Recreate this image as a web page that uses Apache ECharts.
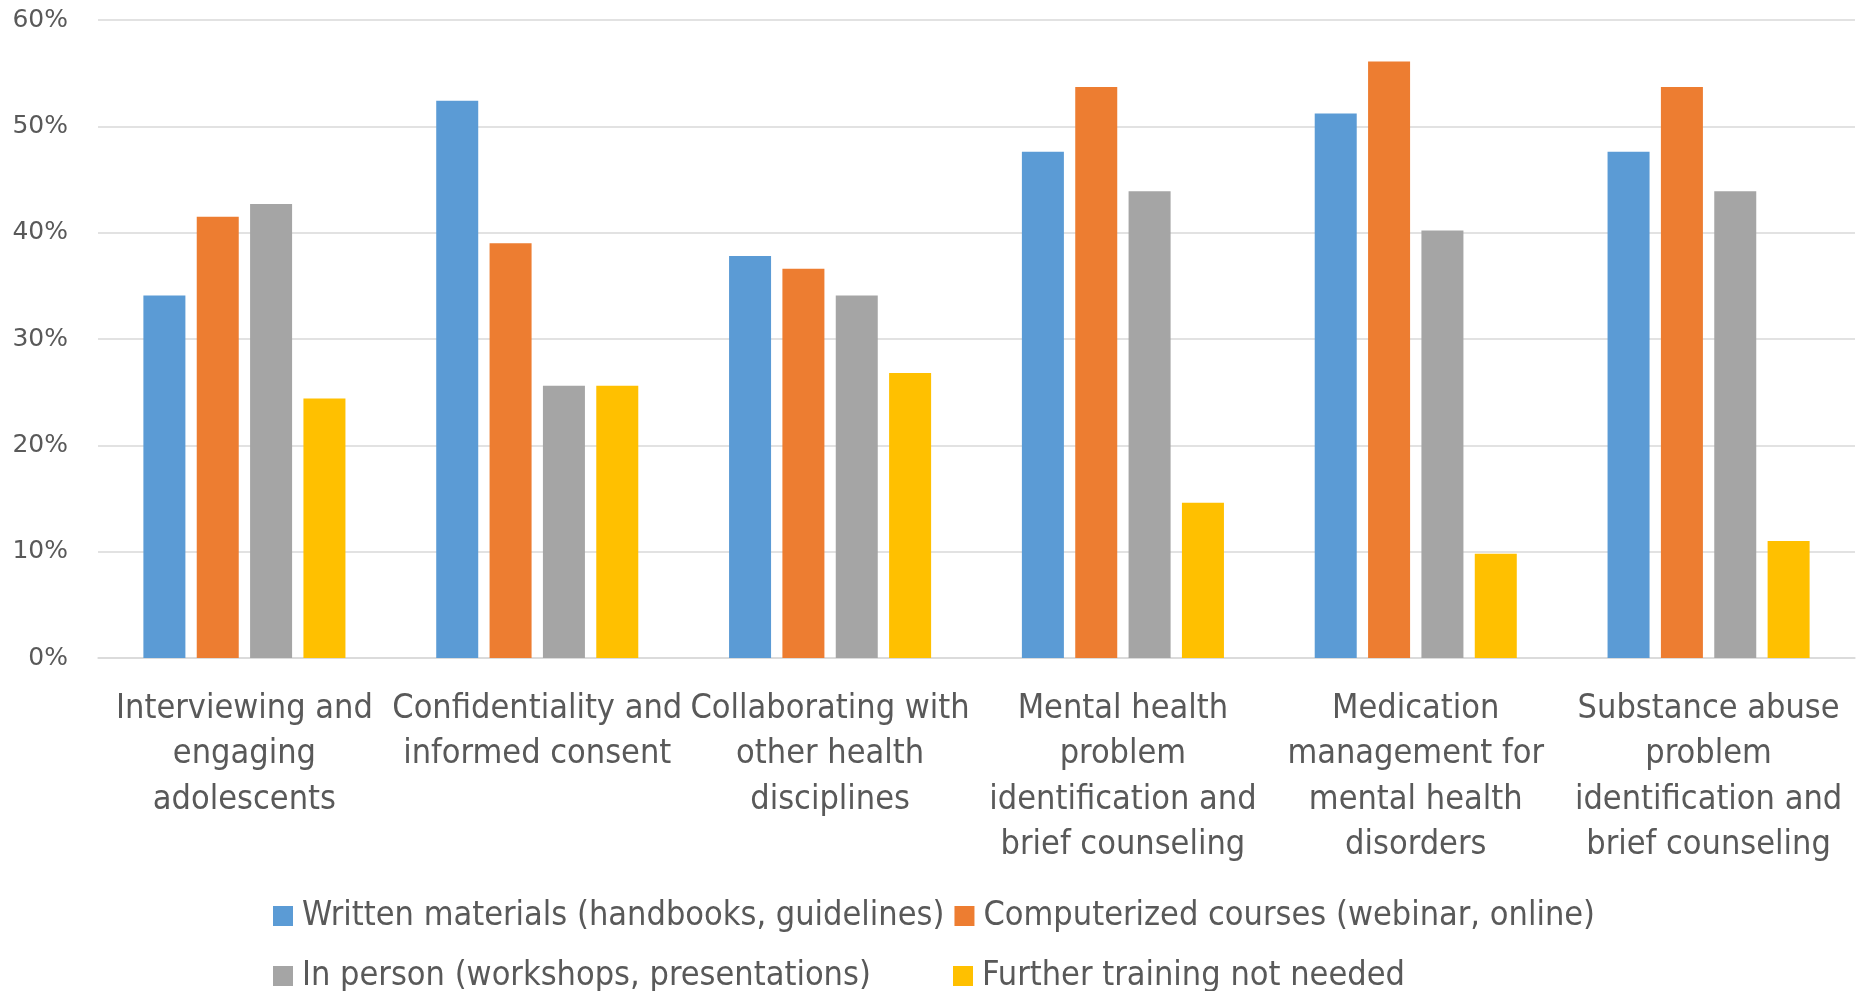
<!DOCTYPE html>
<html>
<head>
<meta charset="utf-8">
<script src="https://cdn.jsdelivr.net/npm/echarts@6/dist/echarts.min.js"></script>
<style>
  html, body { margin: 0; padding: 0; background: #fff; }
  #chart { width: 1858px; height: 991px; }
</style>
</head>
<body>
<div id="chart"></div>
<script>
// categories (line breaks as in the picture)
const categories = [
  "Interviewing and\nengaging\nadolescents",
  "Confidentiality and\ninformed consent",
  "Collaborating with\nother health\ndisciplines",
  "Mental health\nproblem\nidentification and\nbrief counseling",
  "Medication\nmanagement for\nmental health\ndisorders",
  "Substance abuse\nproblem\nidentification and\nbrief counseling"
];
const seriesNames = [
  "Written materials (handbooks, guidelines)",
  "Computerized courses (webinar, online)",
  "In person (workshops, presentations)",
  "Further training not needed"
];
// values in percent
const written = [34.1, 52.4, 37.8, 47.6, 51.2, 47.6];
const computerized = [41.5, 39.0, 36.6, 53.7, 56.1, 53.7];
const inPerson = [42.7, 25.6, 34.1, 43.9, 40.2, 43.9];
const notNeeded = [24.4, 25.6, 26.8, 14.6, 9.8, 11.0];
const yTicks = [0, 10, 20, 30, 40, 50, 60];

const colors = ["#5B9BD5", "#ED7D31", "#A5A5A5", "#FFC000"];
const textColor = "#595959";
const fontFam = "'Liberation Sans Narrow', 'DejaVu Sans Condensed', 'Liberation Sans', sans-serif";

let myChart = echarts.init(document.getElementById("chart"));
const allData = [written, computerized, inPerson, notNeeded];

var option = {
  animation: false,
  color: colors,
  grid: {
    left: 98,
    right: 3,
    top: 20,
    height: 638,
    containLabel: false
  },
  legend: {
    left: 268,
    top: 886,
    width: 1500,
    itemWidth: 20,
    itemHeight: 20,
    itemGap: 10,
    icon: "rect",
    data: seriesNames,
    textStyle: {
      color: textColor,
      fontFamily: fontFam,
      fontSize: 34,
      width: 641,
      lineHeight: 50,
      padding: [0, 0, 0, 4]
    }
  },
  xAxis: {
    type: "category",
    data: categories,
    axisTick: { show: false },
    axisLine: { lineStyle: { color: "#D9D9D9", width: 1.5 } },
    axisLabel: {
      color: textColor,
      fontFamily: fontFam,
      fontSize: 34,
      lineHeight: 45.6,
      margin: 28,
      interval: 0
    }
  },
  yAxis: {
    type: "value",
    min: yTicks[0],
    max: yTicks[yTicks.length - 1],
    interval: 10,
    axisLine: { show: false },
    axisTick: { show: false },
    splitLine: { lineStyle: { color: "#D9D9D9", width: 1.5 } },
    axisLabel: {
      color: textColor,
      fontFamily: "'DejaVu Sans', sans-serif",
      fontSize: 25,
      margin: 30,
      formatter: "{value}%"
    }
  },
  series: allData.map((d, i) => ({
    name: seriesNames[i],
    type: "bar",
    data: d,
    barGap: "27%",
    barCategoryGap: "31%",
    itemStyle: { color: colors[i] }
  }))
};

myChart.setOption(option);
window.addEventListener("resize", function () {
  myChart.resize();
});
</script>
</body>
</html>
